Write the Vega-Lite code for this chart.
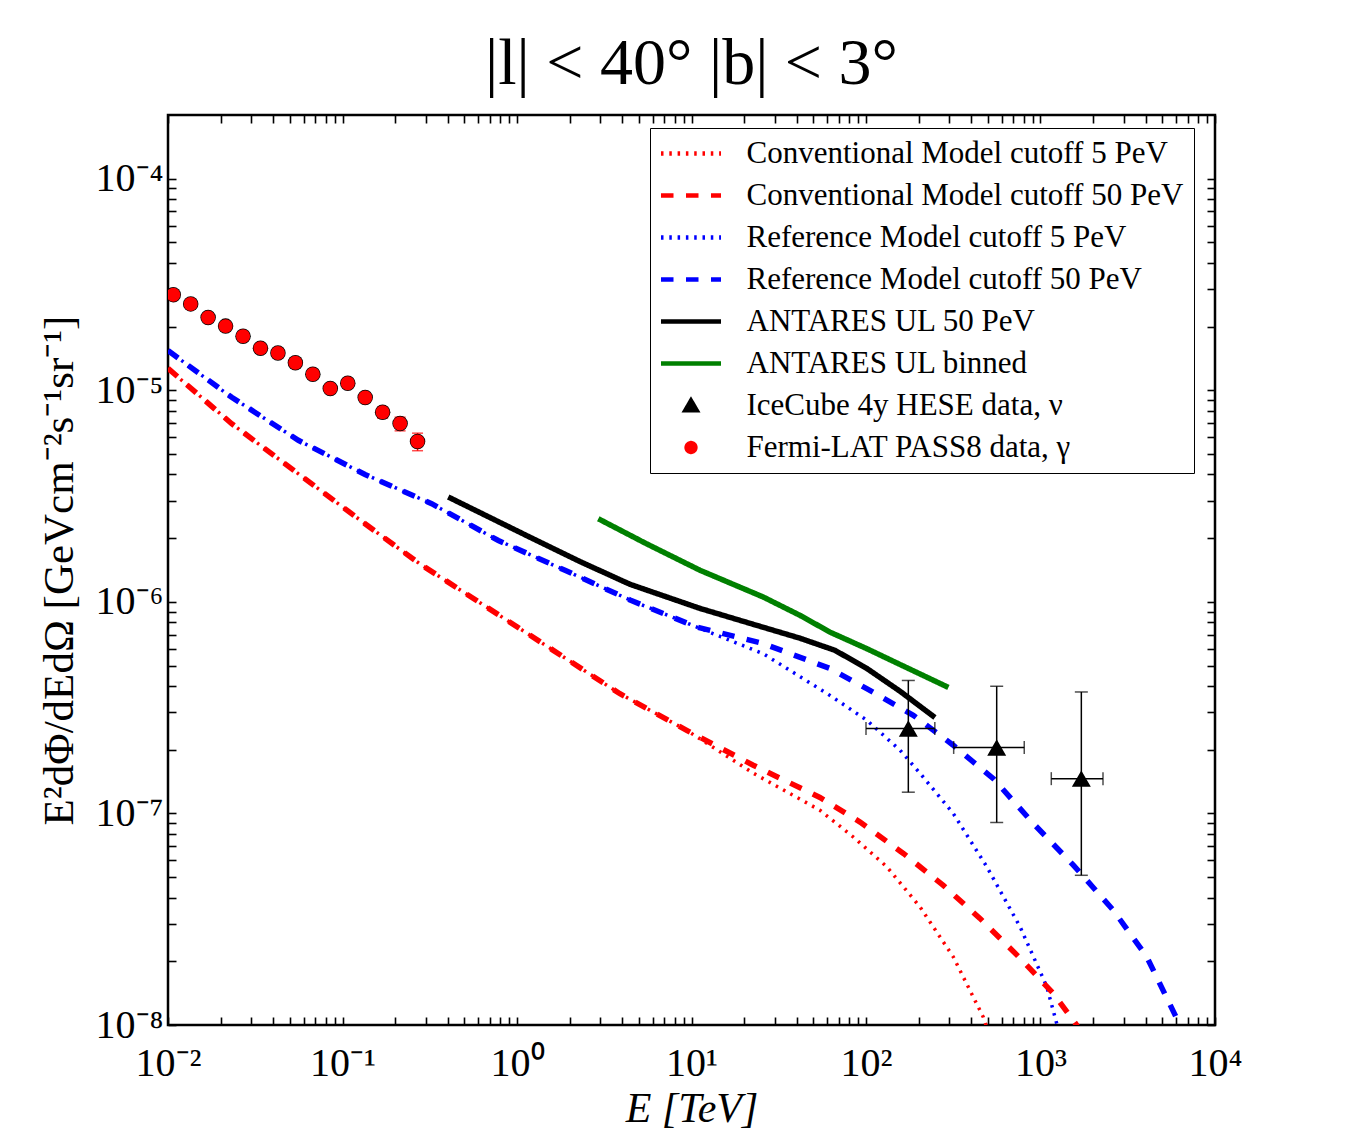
{
  "$schema": "https://vega.github.io/schema/vega-lite/v6.json",
  "width": 1047,
  "height": 910,
  "autosize": {"type": "none"},
  "padding": {"left": 168, "top": 115, "right": 135, "bottom": 115},
  "background": "white",
  "title": {"text": "|l| < 40° |b| < 3°", "font": "Liberation Serif", "fontSize": 66, "fontWeight": "normal", "color": "black", "anchor": "middle", "offset": 16},
  "datasets": {
    "dotted": [
      {"series": "Conventional Model cutoff 5 PeV", "E": 0.01, "F": 1.27e-5},
      {"series": "Conventional Model cutoff 5 PeV", "E": 0.02317, "F": 6.95e-6},
      {"series": "Conventional Model cutoff 5 PeV", "E": 0.05585, "F": 4.03e-6},
      {"series": "Conventional Model cutoff 5 PeV", "E": 0.1346, "F": 2.34e-6},
      {"series": "Conventional Model cutoff 5 PeV", "E": 0.278, "F": 1.51e-6},
      {"series": "Conventional Model cutoff 5 PeV", "E": 0.6699, "F": 9.45e-7},
      {"series": "Conventional Model cutoff 5 PeV", "E": 1.614, "F": 5.9e-7},
      {"series": "Conventional Model cutoff 5 PeV", "E": 3.89, "F": 3.68e-7},
      {"series": "Conventional Model cutoff 5 PeV", "E": 9.387, "F": 2.47e-7},
      {"series": "Conventional Model cutoff 5 PeV", "E": 22.59, "F": 1.55e-7},
      {"series": "Conventional Model cutoff 5 PeV", "E": 54.45, "F": 1.035e-7},
      {"series": "Conventional Model cutoff 5 PeV", "E": 84.53, "F": 7.74e-8},
      {"series": "Conventional Model cutoff 5 PeV", "E": 131.5, "F": 5.6e-8},
      {"series": "Conventional Model cutoff 5 PeV", "E": 203.7, "F": 3.62e-8},
      {"series": "Conventional Model cutoff 5 PeV", "E": 316.2, "F": 2.1e-8},
      {"series": "Conventional Model cutoff 5 PeV", "E": 469.9, "F": 1.09e-8},
      {"series": "Conventional Model cutoff 5 PeV", "E": 520, "F": 8.5e-9},
      {"series": "Reference Model cutoff 5 PeV", "E": 0.01, "F": 1.54e-5},
      {"series": "Reference Model cutoff 5 PeV", "E": 0.02317, "F": 9.27e-6},
      {"series": "Reference Model cutoff 5 PeV", "E": 0.05585, "F": 5.8e-6},
      {"series": "Reference Model cutoff 5 PeV", "E": 0.1346, "F": 4.0e-6},
      {"series": "Reference Model cutoff 5 PeV", "E": 0.3243, "F": 2.91e-6},
      {"series": "Reference Model cutoff 5 PeV", "E": 0.7816, "F": 1.95e-6},
      {"series": "Reference Model cutoff 5 PeV", "E": 1.884, "F": 1.41e-6},
      {"series": "Reference Model cutoff 5 PeV", "E": 4.446, "F": 1.02e-6},
      {"series": "Reference Model cutoff 5 PeV", "E": 10.72, "F": 7.6e-7},
      {"series": "Reference Model cutoff 5 PeV", "E": 25.76, "F": 5.69e-7},
      {"series": "Reference Model cutoff 5 PeV", "E": 62.23, "F": 3.61e-7},
      {"series": "Reference Model cutoff 5 PeV", "E": 100.9, "F": 2.76e-7},
      {"series": "Reference Model cutoff 5 PeV", "E": 156.7, "F": 1.99e-7},
      {"series": "Reference Model cutoff 5 PeV", "E": 203.7, "F": 1.55e-7},
      {"series": "Reference Model cutoff 5 PeV", "E": 316.2, "F": 1.0e-7},
      {"series": "Reference Model cutoff 5 PeV", "E": 492.0, "F": 5.6e-8},
      {"series": "Reference Model cutoff 5 PeV", "E": 763.8, "F": 2.91e-8},
      {"series": "Reference Model cutoff 5 PeV", "E": 1086, "F": 1.52e-8},
      {"series": "Reference Model cutoff 5 PeV", "E": 1245, "F": 1.0e-8},
      {"series": "Reference Model cutoff 5 PeV", "E": 1300, "F": 8.5e-9}
    ],
    "thick": [
      {"series": "Conventional Model cutoff 50 PeV", "E": 0.01, "F": 1.27e-5},
      {"series": "Conventional Model cutoff 50 PeV", "E": 0.02317, "F": 6.95e-6},
      {"series": "Conventional Model cutoff 50 PeV", "E": 0.05585, "F": 4.03e-6},
      {"series": "Conventional Model cutoff 50 PeV", "E": 0.1346, "F": 2.34e-6},
      {"series": "Conventional Model cutoff 50 PeV", "E": 0.278, "F": 1.51e-6},
      {"series": "Conventional Model cutoff 50 PeV", "E": 0.6699, "F": 9.45e-7},
      {"series": "Conventional Model cutoff 50 PeV", "E": 1.614, "F": 5.9e-7},
      {"series": "Conventional Model cutoff 50 PeV", "E": 3.89, "F": 3.68e-7},
      {"series": "Conventional Model cutoff 50 PeV", "E": 9.387, "F": 2.47e-7},
      {"series": "Conventional Model cutoff 50 PeV", "E": 22.59, "F": 1.69e-7},
      {"series": "Conventional Model cutoff 50 PeV", "E": 54.45, "F": 1.19e-7},
      {"series": "Conventional Model cutoff 50 PeV", "E": 92.47, "F": 9.1e-8},
      {"series": "Conventional Model cutoff 50 PeV", "E": 163.7, "F": 6.47e-8},
      {"series": "Conventional Model cutoff 50 PeV", "E": 277.3, "F": 4.57e-8},
      {"series": "Conventional Model cutoff 50 PeV", "E": 449.8, "F": 3.19e-8},
      {"series": "Conventional Model cutoff 50 PeV", "E": 763.8, "F": 2.07e-8},
      {"series": "Conventional Model cutoff 50 PeV", "E": 1183, "F": 1.41e-8},
      {"series": "Conventional Model cutoff 50 PeV", "E": 1611, "F": 1.0e-8},
      {"series": "Conventional Model cutoff 50 PeV", "E": 1750, "F": 8.5e-9},
      {"series": "Reference Model cutoff 50 PeV", "E": 0.01, "F": 1.54e-5},
      {"series": "Reference Model cutoff 50 PeV", "E": 0.02317, "F": 9.27e-6},
      {"series": "Reference Model cutoff 50 PeV", "E": 0.05585, "F": 5.8e-6},
      {"series": "Reference Model cutoff 50 PeV", "E": 0.1346, "F": 4.0e-6},
      {"series": "Reference Model cutoff 50 PeV", "E": 0.3243, "F": 2.91e-6},
      {"series": "Reference Model cutoff 50 PeV", "E": 0.7816, "F": 1.95e-6},
      {"series": "Reference Model cutoff 50 PeV", "E": 1.884, "F": 1.41e-6},
      {"series": "Reference Model cutoff 50 PeV", "E": 4.446, "F": 1.02e-6},
      {"series": "Reference Model cutoff 50 PeV", "E": 10.72, "F": 7.6e-7},
      {"series": "Reference Model cutoff 50 PeV", "E": 25.76, "F": 6.35e-7},
      {"series": "Reference Model cutoff 50 PeV", "E": 62.23, "F": 4.84e-7},
      {"series": "Reference Model cutoff 50 PeV", "E": 100.9, "F": 3.89e-7},
      {"series": "Reference Model cutoff 50 PeV", "E": 186.6, "F": 2.91e-7},
      {"series": "Reference Model cutoff 50 PeV", "E": 316.2, "F": 2.1e-7},
      {"series": "Reference Model cutoff 50 PeV", "E": 537.0, "F": 1.46e-7},
      {"series": "Reference Model cutoff 50 PeV", "E": 909.9, "F": 8.96e-8},
      {"series": "Reference Model cutoff 50 PeV", "E": 1542, "F": 5.7e-8},
      {"series": "Reference Model cutoff 50 PeV", "E": 2612, "F": 3.49e-8},
      {"series": "Reference Model cutoff 50 PeV", "E": 4064, "F": 2.1e-8},
      {"series": "Reference Model cutoff 50 PeV", "E": 6295, "F": 1.0e-8},
      {"series": "Reference Model cutoff 50 PeV", "E": 6800, "F": 8.5e-9},
      {"series": "ANTARES UL 50 PeV", "E": 0.4036, "F": 3.13e-6},
      {"series": "ANTARES UL 50 PeV", "E": 1.187, "F": 2.02e-6},
      {"series": "ANTARES UL 50 PeV", "E": 2.296, "F": 1.55e-6},
      {"series": "ANTARES UL 50 PeV", "E": 4.446, "F": 1.21e-6},
      {"series": "ANTARES UL 50 PeV", "E": 11.19, "F": 9.31e-7},
      {"series": "ANTARES UL 50 PeV", "E": 22.59, "F": 7.83e-7},
      {"series": "ANTARES UL 50 PeV", "E": 41.88, "F": 6.73e-7},
      {"series": "ANTARES UL 50 PeV", "E": 66.4, "F": 5.9e-7},
      {"series": "ANTARES UL 50 PeV", "E": 100.9, "F": 4.85e-7},
      {"series": "ANTARES UL 50 PeV", "E": 156.7, "F": 3.78e-7},
      {"series": "ANTARES UL 50 PeV", "E": 248.3, "F": 2.84e-7},
      {"series": "ANTARES UL binned", "E": 2.924, "F": 2.47e-6},
      {"series": "ANTARES UL binned", "E": 5.534, "F": 1.88e-6},
      {"series": "ANTARES UL binned", "E": 11.19, "F": 1.41e-6},
      {"series": "ANTARES UL binned", "E": 25.76, "F": 1.054e-6},
      {"series": "ANTARES UL binned", "E": 41.88, "F": 8.63e-7},
      {"series": "ANTARES UL binned", "E": 62.23, "F": 7.19e-7},
      {"series": "ANTARES UL binned", "E": 100.9, "F": 6.01e-7},
      {"series": "ANTARES UL binned", "E": 296.5, "F": 3.94e-7}
    ],
    "fermi": [
      {"series": "Fermi-LAT PASS8 data, γ", "E": 0.01072, "F": 2.83e-5},
      {"series": "Fermi-LAT PASS8 data, γ", "E": 0.01349, "F": 2.56e-5},
      {"series": "Fermi-LAT PASS8 data, γ", "E": 0.01698, "F": 2.21e-5},
      {"series": "Fermi-LAT PASS8 data, γ", "E": 0.02138, "F": 2.01e-5},
      {"series": "Fermi-LAT PASS8 data, γ", "E": 0.02692, "F": 1.8e-5},
      {"series": "Fermi-LAT PASS8 data, γ", "E": 0.03388, "F": 1.58e-5},
      {"series": "Fermi-LAT PASS8 data, γ", "E": 0.04266, "F": 1.5e-5},
      {"series": "Fermi-LAT PASS8 data, γ", "E": 0.0537, "F": 1.35e-5},
      {"series": "Fermi-LAT PASS8 data, γ", "E": 0.06761, "F": 1.19e-5},
      {"series": "Fermi-LAT PASS8 data, γ", "E": 0.08511, "F": 1.02e-5},
      {"series": "Fermi-LAT PASS8 data, γ", "E": 0.1072, "F": 1.08e-5},
      {"series": "Fermi-LAT PASS8 data, γ", "E": 0.1349, "F": 9.25e-6},
      {"series": "Fermi-LAT PASS8 data, γ", "E": 0.1698, "F": 7.87e-6},
      {"series": "Fermi-LAT PASS8 data, γ", "E": 0.2138, "F": 6.97e-6},
      {"series": "Fermi-LAT PASS8 data, γ", "E": 0.2692, "F": 5.72e-6}
    ],
    "fermi_err": [
      {"E": 0.1349, "lo": 8.85e-6, "hi": 9.66e-6},
      {"E": 0.1698, "lo": 7.38e-6, "hi": 8.32e-6},
      {"E": 0.2138, "lo": 6.43e-6, "hi": 7.46e-6},
      {"E": 0.2692, "lo": 5.18e-6, "hi": 6.27e-6}
    ],
    "icecube": [
      {"series": "IceCube 4y HESE data, ν", "E": 174.8, "F": 2.52e-7, "Elo": 100, "Ehi": 248, "Flo": 1.26e-7, "Fhi": 4.25e-7},
      {"series": "IceCube 4y HESE data, ν", "E": 561, "F": 2.05e-7, "Elo": 318, "Ehi": 807, "Flo": 9.06e-8, "Fhi": 3.99e-7},
      {"series": "IceCube 4y HESE data, ν", "E": 1714, "F": 1.46e-7, "Elo": 1153, "Ehi": 2281, "Flo": 5.1e-8, "Fhi": 3.75e-7}
    ]
  },
  "layer": [
    {
      "layer": [
        {
          "data": {"name": "dotted"},
          "mark": {"type": "line", "strokeWidth": 3.5, "clip": true, "strokeCap": "butt"},
          "encoding": {
            "x": {
              "field": "E", "type": "quantitative",
              "scale": {"type": "log", "domain": [0.01, 10000], "nice": false},
              "axis": {
                "orient": "bottom",
                "values": [0.01,0.02,0.03,0.04,0.05,0.06,0.07,0.08,0.09,0.1,0.2,0.3,0.4,0.5,0.6,0.7,0.8,0.9,1,2,3,4,5,6,7,8,9,10,20,30,40,50,60,70,80,90,100,200,300,400,500,600,700,800,900,1000,2000,3000,4000,5000,6000,7000,8000,9000,10000],
                "labelExpr": "abs(log(datum.value)/LN10 - round(log(datum.value)/LN10)) < 0.001 ? '10' + (round(log(datum.value)/LN10) < 0 ? '⁻' : '') + ['⁰','¹','²','³','⁴','⁵','⁶','⁷','⁸','⁹'][abs(round(log(datum.value)/LN10))] : ''",
                "tickSize": -8,
                "tickWidth": 1.6,
                "encode": {"ticks": {"update": {"y2": {"signal": "abs(log(datum.value)/LN10 - round(log(datum.value)/LN10)) < 0.001 ? -15 : -8"}, "strokeWidth": {"signal": "abs(log(datum.value)/LN10 - round(log(datum.value)/LN10)) < 0.001 ? 2.2 : 1.6"}}}},
                "labelPadding": 26,
                "title": "E [TeV]",
                "titleFontStyle": "italic",
                "titleFontSize": 42,
                "titlePadding": 5
              }
            },
            "y": {
              "field": "F", "type": "quantitative",
              "scale": {"type": "log", "domain": [1e-8, 2e-4], "nice": false},
              "axis": {
                "orient": "left",
                "values": [1e-8,2e-8,3e-8,4e-8,5e-8,6e-8,7e-8,8e-8,9e-8,1e-7,2e-7,3e-7,4e-7,5e-7,6e-7,7e-7,8e-7,9e-7,1e-6,2e-6,3e-6,4e-6,5e-6,6e-6,7e-6,8e-6,9e-6,1e-5,2e-5,3e-5,4e-5,5e-5,6e-5,7e-5,8e-5,9e-5,1e-4],
                "labelExpr": "abs(log(datum.value)/LN10 - round(log(datum.value)/LN10)) < 0.001 ? '10' + (round(log(datum.value)/LN10) < 0 ? '⁻' : '') + ['⁰','¹','²','³','⁴','⁵','⁶','⁷','⁸','⁹'][abs(round(log(datum.value)/LN10))] : ''",
                "tickSize": -8,
                "tickWidth": 1.6,
                "encode": {"ticks": {"update": {"x2": {"signal": "abs(log(datum.value)/LN10 - round(log(datum.value)/LN10)) < 0.001 ? 15 : 8"}, "strokeWidth": {"signal": "abs(log(datum.value)/LN10 - round(log(datum.value)/LN10)) < 0.001 ? 2.2 : 1.6"}}}},
                "labelPadding": 13,
                "title": "E²dΦ/dEdΩ [GeVcm⁻²s⁻¹sr⁻¹]",
                "titleFontSize": 43,
                "titlePadding": 14
              }
            },
            "color": {
              "field": "series", "type": "nominal", "title": null,
              "scale": {
                "domain": ["Conventional Model cutoff 5 PeV", "Conventional Model cutoff 50 PeV", "Reference Model cutoff 5 PeV", "Reference Model cutoff 50 PeV", "ANTARES UL 50 PeV", "ANTARES UL binned", "IceCube 4y HESE data, ν", "Fermi-LAT PASS8 data, γ"],
                "range": ["#ff0000", "#ff0000", "#0000ff", "#0000ff", "#000000", "#008000", "#000000", "#ff0000"]
              },
              "legend": {
                "title": null,
                "orient": "none",
                "legendX": 482,
                "legendY": 13,
                "padding": 10,
                "strokeColor": "black",
                "fillColor": "white",
                "symbolSize": 225,
                "symbolStrokeWidth": 4.5,
                "symbolOffset": 15.5,
                "labelFont": "Liberation Serif",
                "labelFontSize": 31,
                "labelColor": "black",
                "labelOffset": 40,
                "labelLimit": 0,
                "rowPadding": 10
              }
            },
            "strokeDash": {
              "field": "series", "type": "nominal", "title": null,
              "scale": {
                "domain": ["Conventional Model cutoff 5 PeV", "Conventional Model cutoff 50 PeV", "Reference Model cutoff 5 PeV", "Reference Model cutoff 50 PeV", "ANTARES UL 50 PeV", "ANTARES UL binned", "IceCube 4y HESE data, ν", "Fermi-LAT PASS8 data, γ"],
                "range": [[2.5, 5.8], [12.5, 12.5], [2.5, 5.8], [12.5, 12.5], [1, 0], [1, 0], [1, 0], [1, 0]]
              }
            }
          }
        },
        {
          "data": {"name": "thick"},
          "mark": {"type": "line", "strokeWidth": 5.5, "clip": true, "strokeCap": "butt"},
          "encoding": {
            "x": {"field": "E", "type": "quantitative"},
            "y": {"field": "F", "type": "quantitative"},
            "color": {"field": "series", "type": "nominal", "title": null},
            "strokeDash": {"field": "series", "type": "nominal", "title": null}
          }
        },
        {
          "data": {"name": "fermi_err"},
          "mark": {"type": "rule", "color": "#ff0000", "strokeWidth": 1.5},
          "encoding": {
            "x": {"field": "E", "type": "quantitative"},
            "y": {"field": "lo", "type": "quantitative"},
            "y2": {"field": "hi"}
          }
        },
        {
          "data": {"name": "fermi_err"},
          "mark": {"type": "tick", "orient": "horizontal", "color": "#ff0000", "size": 11, "thickness": 1.5},
          "encoding": {
            "x": {"field": "E", "type": "quantitative"},
            "y": {"field": "lo", "type": "quantitative"}
          }
        },
        {
          "data": {"name": "fermi_err"},
          "mark": {"type": "tick", "orient": "horizontal", "color": "#ff0000", "size": 11, "thickness": 1.5},
          "encoding": {
            "x": {"field": "E", "type": "quantitative"},
            "y": {"field": "hi", "type": "quantitative"}
          }
        },
        {
          "data": {"name": "fermi"},
          "mark": {"type": "point", "shape": "circle", "filled": true, "fill": "black", "strokeWidth": 0, "size": 240, "opacity": 1, "clip": true},
          "encoding": {
            "x": {"field": "E", "type": "quantitative"},
            "y": {"field": "F", "type": "quantitative"}
          }
        },
        {
          "data": {"name": "fermi"},
          "mark": {"type": "point", "filled": true, "strokeWidth": 0, "size": 567, "opacity": 1, "clip": true},
          "encoding": {
            "x": {"field": "E", "type": "quantitative"},
            "y": {"field": "F", "type": "quantitative"},
            "color": {"field": "series", "type": "nominal", "title": null},
            "shape": {
              "field": "series", "type": "nominal", "title": null,
              "scale": {
                "domain": ["Conventional Model cutoff 5 PeV", "Conventional Model cutoff 50 PeV", "Reference Model cutoff 5 PeV", "Reference Model cutoff 50 PeV", "ANTARES UL 50 PeV", "ANTARES UL binned", "IceCube 4y HESE data, ν", "Fermi-LAT PASS8 data, γ"],
                "range": ["M-4,0H4", "M-4,0H4", "M-4,0H4", "M-4,0H4", "M-4,0H4", "M-4,0H4", "M0,-0.647L0.747,0.647L-0.747,0.647Z M0,0.07L0.13,0.29L-0.13,0.29Z", "M0.587,0A0.587,0.587,0,1,1,-0.587,0A0.587,0.587,0,1,1,0.587,0Z M0.293,0A0.293,0.293,0,1,1,-0.293,0A0.293,0.293,0,1,1,0.293,0Z"]
              }
            }
          }
        },
        {
          "data": {"name": "icecube"},
          "mark": {"type": "rule", "color": "black", "strokeWidth": 1.5},
          "encoding": {
            "x": {"field": "E", "type": "quantitative"},
            "y": {"field": "Flo", "type": "quantitative"},
            "y2": {"field": "Fhi"}
          }
        },
        {
          "data": {"name": "icecube"},
          "mark": {"type": "rule", "color": "black", "strokeWidth": 1.5},
          "encoding": {
            "y": {"field": "F", "type": "quantitative"},
            "x": {"field": "Elo", "type": "quantitative"},
            "x2": {"field": "Ehi"}
          }
        },
        {
          "data": {"name": "icecube"},
          "mark": {"type": "tick", "orient": "horizontal", "color": "black", "size": 13, "thickness": 1.5},
          "encoding": {
            "x": {"field": "E", "type": "quantitative"},
            "y": {"field": "Flo", "type": "quantitative"}
          }
        },
        {
          "data": {"name": "icecube"},
          "mark": {"type": "tick", "orient": "horizontal", "color": "black", "size": 13, "thickness": 1.5},
          "encoding": {
            "x": {"field": "E", "type": "quantitative"},
            "y": {"field": "Fhi", "type": "quantitative"}
          }
        },
        {
          "data": {"name": "icecube"},
          "mark": {"type": "tick", "orient": "vertical", "color": "black", "size": 13, "thickness": 1.5},
          "encoding": {
            "x": {"field": "Elo", "type": "quantitative"},
            "y": {"field": "F", "type": "quantitative"}
          }
        },
        {
          "data": {"name": "icecube"},
          "mark": {"type": "tick", "orient": "vertical", "color": "black", "size": 13, "thickness": 1.5},
          "encoding": {
            "x": {"field": "Ehi", "type": "quantitative"},
            "y": {"field": "F", "type": "quantitative"}
          }
        }
      ]
    },
    {
      "data": {"name": "icecube"},
      "mark": {"type": "point", "filled": true, "strokeWidth": 0, "size": 645, "opacity": 1},
      "encoding": {
        "x": {
          "field": "E", "type": "quantitative",
          "axis": {
            "orient": "top",
            "values": [0.01,0.02,0.03,0.04,0.05,0.06,0.07,0.08,0.09,0.1,0.2,0.3,0.4,0.5,0.6,0.7,0.8,0.9,1,2,3,4,5,6,7,8,9,10,20,30,40,50,60,70,80,90,100,200,300,400,500,600,700,800,900,1000,2000,3000,4000,5000,6000,7000,8000,9000,10000],
            "labels": false,
            "title": null,
            "tickSize": -8,
            "tickWidth": 1.6,
            "encode": {"ticks": {"update": {"y2": {"signal": "abs(log(datum.value)/LN10 - round(log(datum.value)/LN10)) < 0.001 ? 15 : 8"}, "strokeWidth": {"signal": "abs(log(datum.value)/LN10 - round(log(datum.value)/LN10)) < 0.001 ? 2.2 : 1.6"}}}}
          }
        },
        "y": {
          "field": "F", "type": "quantitative",
          "axis": {
            "orient": "right",
            "values": [1e-8,2e-8,3e-8,4e-8,5e-8,6e-8,7e-8,8e-8,9e-8,1e-7,2e-7,3e-7,4e-7,5e-7,6e-7,7e-7,8e-7,9e-7,1e-6,2e-6,3e-6,4e-6,5e-6,6e-6,7e-6,8e-6,9e-6,1e-5,2e-5,3e-5,4e-5,5e-5,6e-5,7e-5,8e-5,9e-5,1e-4],
            "labels": false,
            "title": null,
            "tickSize": -8,
            "tickWidth": 1.6,
            "encode": {"ticks": {"update": {"x2": {"signal": "abs(log(datum.value)/LN10 - round(log(datum.value)/LN10)) < 0.001 ? -15 : -8"}, "strokeWidth": {"signal": "abs(log(datum.value)/LN10 - round(log(datum.value)/LN10)) < 0.001 ? 2.2 : 1.6"}}}}
          }
        },
        "color": {"field": "series", "type": "nominal", "title": null},
        "shape": {"field": "series", "type": "nominal", "title": null}
      }
    }
  ],
  "resolve": {"axis": {"x": "independent", "y": "independent"}},
  "config": {
    "font": "Liberation Serif",
    "view": {"stroke": "black", "strokeWidth": 2.5},
    "axis": {
      "domain": false,
      "grid": false,
      "tickColor": "black",
      "labelFont": "Liberation Serif",
      "labelFontSize": 40,
      "labelColor": "black",
      "labelFlush": false,
      "labelOverlap": false,
      "titleFont": "Liberation Serif",
      "titleFontWeight": "normal",
      "titleColor": "black"
    }
  }
}
